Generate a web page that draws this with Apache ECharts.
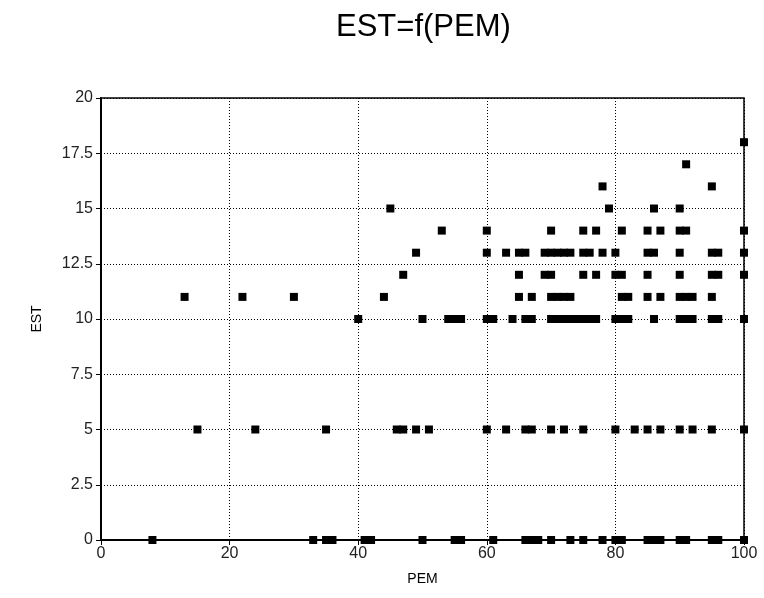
<!DOCTYPE html>
<html>
<head>
<meta charset="utf-8">
<script src="https://cdn.jsdelivr.net/npm/echarts@6/dist/echarts.min.js"></script>
<style>
  html, body { margin: 0; padding: 0; background: #fff; }
  #chart { width: 764px; height: 598px; }
</style>
</head>
<body>
<div id="chart"></div>
<script>
// PEM values observed at each EST level
const estLevels = [0, 5, 10, 11, 12, 13, 14, 15, 16, 17, 18];
const pemAtEst0  = [8, 33, 35, 36, 41, 42, 50, 55, 56, 61, 66, 67, 68, 70, 73, 75, 78, 80, 81, 85, 86, 87, 90, 91, 95, 96, 100];
const pemAtEst5  = [15, 24, 35, 46, 47, 49, 51, 60, 63, 66, 67, 70, 72, 75, 80, 83, 85, 87, 90, 92, 95, 100];
const pemAtEst10 = [40, 50, 54, 55, 56, 60, 61, 64, 66, 67, 70, 71, 72, 73, 74, 75, 76, 77, 80, 81, 82, 86, 90, 91, 92, 95, 96, 100];
const pemAtEst11 = [13, 22, 30, 44, 65, 67, 70, 71, 72, 73, 81, 82, 85, 87, 90, 91, 92, 95];
const pemAtEst12 = [47, 65, 69, 70, 75, 77, 80, 81, 85, 90, 95, 96, 100];
const pemAtEst13 = [49, 60, 63, 65, 66, 69, 70, 71, 72, 73, 75, 76, 78, 80, 85, 86, 90, 95, 96, 100];
const pemAtEst14 = [53, 60, 70, 75, 77, 81, 85, 87, 90, 91, 100];
const pemAtEst15 = [45, 79, 86, 90];
const pemAtEst16 = [78, 95];
const pemAtEst17 = [91];
const pemAtEst18 = [100];

const pemByLevel = [pemAtEst0, pemAtEst5, pemAtEst10, pemAtEst11, pemAtEst12,
  pemAtEst13, pemAtEst14, pemAtEst15, pemAtEst16, pemAtEst17, pemAtEst18];

// Axis ticks
const xTicks = [0, 20, 40, 60, 80, 100];
const yTicks = [0, 2.5, 5, 7.5, 10, 12.5, 15, 17.5, 20];

const points = [];
estLevels.forEach((est, i) => {
  pemByLevel[i].forEach(pem => points.push([pem, est]));
});

const font = 'Liberation Sans, Arial, sans-serif';
const chart = echarts.init(document.getElementById('chart'), null, { renderer: 'canvas' });

chart.setOption({
  animation: false,
  backgroundColor: '#fff',
  title: {
    text: 'EST=f(PEM)',
    left: 331,
    top: 7,
    textStyle: { fontFamily: font, fontSize: 31, fontWeight: 'normal', color: '#000' }
  },
  grid: {
    left: 101, right: 20, top: 98, bottom: 58,
    show: true, borderColor: '#000', borderWidth: 1.5, backgroundColor: 'transparent'
  },
  xAxis: {
    type: 'value',
    min: xTicks[0], max: xTicks[xTicks.length - 1], interval: 20,
    name: 'PEM', nameLocation: 'middle', nameGap: 32,
    nameTextStyle: { fontFamily: font, fontSize: 14, color: '#000' },
    axisLine: { show: true, onZero: false, lineStyle: { color: '#000', width: 2 } },
    axisTick: { show: true, length: 5, lineStyle: { color: '#000', width: 1 } },
    axisLabel: { fontFamily: font, fontSize: 16, color: '#222', margin: 6 },
    splitLine: { show: true, lineStyle: { color: '#000', width: 1, type: [1, 2] } }
  },
  yAxis: {
    type: 'value',
    min: yTicks[0], max: yTicks[yTicks.length - 1], interval: 2.5,
    name: 'EST', nameLocation: 'middle', nameGap: 57, nameRotate: 90,
    nameTextStyle: { fontFamily: font, fontSize: 14, color: '#000' },
    axisLine: { show: true, onZero: false, lineStyle: { color: '#000', width: 2 } },
    axisTick: { show: true, length: 5, lineStyle: { color: '#000', width: 1 } },
    axisLabel: { fontFamily: font, fontSize: 16, color: '#222', margin: 8 },
    splitLine: { show: true, lineStyle: { color: '#000', width: 1, type: [1, 2] } }
  },
  series: [{
    type: 'scatter',
    data: points,
    symbol: 'rect',
    symbolSize: 8,
    clip: false,
    itemStyle: { color: '#000', opacity: 1 }
  }]
});
</script>
</body>
</html>
